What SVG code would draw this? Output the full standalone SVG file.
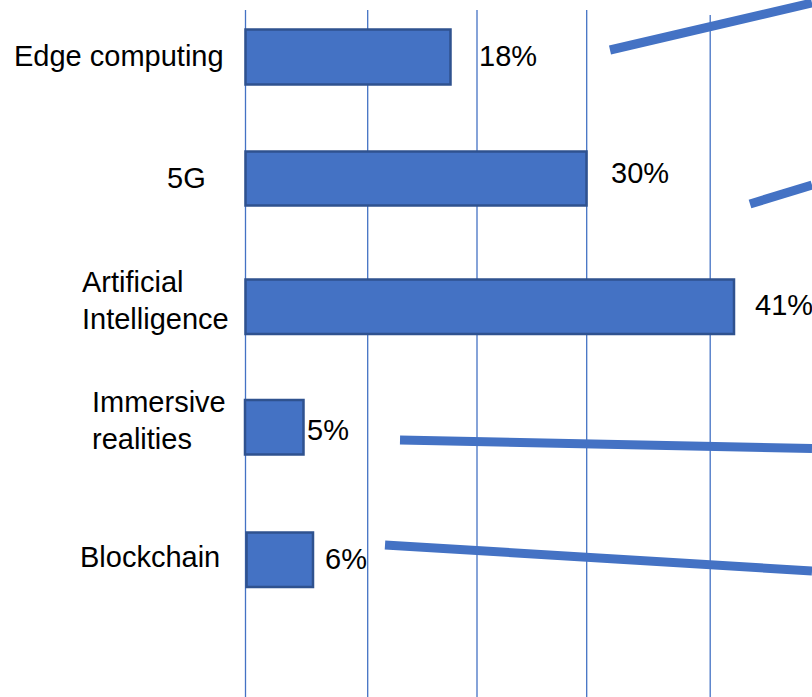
<svg xmlns="http://www.w3.org/2000/svg" width="812" height="697" viewBox="0 0 812 697">
<style>
.grid{stroke:#4472C4;stroke-width:1.3;fill:none}
.bar{fill:#4472C4;stroke:#2F528F;stroke-width:2.5}
.lbl{font-family:"Liberation Sans",Arial,sans-serif;font-size:29px;fill:#000}
.trend{stroke:#4472C4;stroke-width:9;fill:none;stroke-linecap:butt}
</style>
<rect x="0" y="0" width="812" height="697" fill="#fff"/>
<g id="gridlines">
<line class="grid" x1="245.5" y1="10" x2="245.5" y2="697"/>
<line class="grid" x1="367.7" y1="10" x2="367.7" y2="697"/>
<line class="grid" x1="477" y1="10" x2="477" y2="697"/>
<line class="grid" x1="586.7" y1="10" x2="586.7" y2="697"/>
<line class="grid" x1="710.2" y1="15" x2="710.2" y2="697"/>
</g>
<g id="edge-computing">
<rect class="bar" x="245.5" y="29.5" width="205" height="55"/>
<text class="lbl" x="14" y="66">Edge computing</text>
<text class="lbl" x="479" y="66">18%</text>
</g>
<g id="5g">
<rect class="bar" x="245.5" y="151.5" width="341" height="54"/>
<text class="lbl" x="167" y="188">5G</text>
<text class="lbl" x="611" y="183">30%</text>
</g>
<g id="artificial-intelligence">
<rect class="bar" x="245.5" y="279.5" width="488.5" height="54.5"/>
<text class="lbl" x="82" y="292">Artificial</text>
<text class="lbl" x="82" y="329">Intelligence</text>
<text class="lbl" x="755" y="315">41%</text>
</g>
<g id="immersive-realities">
<rect class="bar" x="245" y="400" width="58.5" height="54.5"/>
<text class="lbl" x="92" y="412">Immersive</text>
<text class="lbl" x="92" y="449">realities</text>
<text class="lbl" x="307" y="440">5%</text>
</g>
<g id="blockchain">
<rect class="bar" x="246.5" y="532.5" width="66.5" height="54.5"/>
<text class="lbl" x="80" y="567">Blockchain</text>
<text class="lbl" x="325" y="569">6%</text>
</g>
<g id="connectors">
<line class="trend" x1="610" y1="50" x2="812" y2="3"/>
<line class="trend" x1="750" y1="204" x2="812" y2="185"/>
<line class="trend" x1="400" y1="440" x2="812" y2="448.5"/>
<line class="trend" x1="385" y1="545" x2="812" y2="571"/>
</g>
</svg>
